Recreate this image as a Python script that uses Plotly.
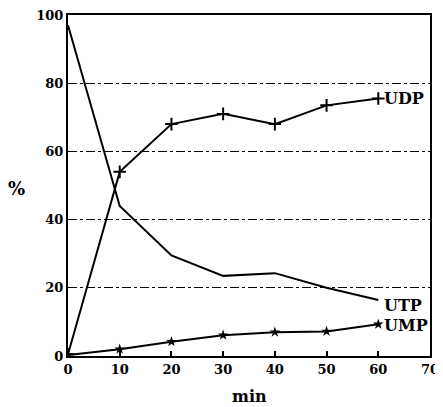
import plotly.graph_objects as go

minutes = [0, 10, 20, 30, 40, 50, 60]
udp = [0.5, 54, 68, 71, 68, 73.5, 75.5]
utp = [97, 44, 29.5, 23.5, 24.3, 20, 16.4]
ump = [0.3, 2, 4.2, 6.1, 7, 7.2, 9.3]
x_ticks = [0, 10, 20, 30, 40, 50, 60, 70]
y_ticks = [0, 20, 40, 60, 80, 100]

FONT = "DejaVu Serif"

fig = go.Figure()
fig.add_trace(go.Scatter(x=minutes, y=udp, mode="lines+markers", name="UDP",
                         line=dict(color="black", width=2),
                         marker=dict(symbol="cross-thin", size=9, line=dict(color="black", width=2))))
fig.add_trace(go.Scatter(x=minutes, y=utp, mode="lines", name="UTP",
                         line=dict(color="black", width=2)))
fig.add_trace(go.Scatter(x=minutes, y=ump, mode="lines+markers", name="UMP",
                         line=dict(color="black", width=2),
                         marker=dict(symbol="star", size=8, color="black")))

labels = [("UDP", udp[-1]), ("UTP", utp[-1] - 1.5), ("UMP", ump[-1] - 0.5)]
for txt, yv in labels:
    fig.add_annotation(x=minutes[-1] + 0.8, y=yv, text="<b>" + txt + "</b>", showarrow=False,
                       xanchor="left", yanchor="middle",
                       font=dict(family=FONT, size=16, color="black"))

# page body has an 8px margin: figure sits at (8, 8) in the window
fig.update_layout(
    width=435, height=399,
    margin=dict(l=60, r=13, t=7, b=51),
    paper_bgcolor="white", plot_bgcolor="white",
    showlegend=False,
    font=dict(family=FONT, color="black", size=12),
)
fig.update_xaxes(range=[0, 70], tickvals=x_ticks, ticktext=["<b>%d</b>" % v for v in x_ticks],
                 showline=True, linecolor="black", linewidth=2, mirror=True,
                 ticks="inside", ticklen=5, tickwidth=2, tickcolor="black",
                 showgrid=False, zeroline=False, automargin=False,
                 ticklabeloverflow="allow",
                 tickfont=dict(family=FONT, size=13))
fig.update_yaxes(range=[0, 100], tickvals=y_ticks, ticktext=["<b>%d</b>" % v for v in y_ticks],
                 showline=True, linecolor="black", linewidth=2, mirror=True,
                 ticks="", showgrid=True, gridcolor="black", gridwidth=1, griddash="dashdot",
                 zeroline=False, automargin=False,
                 ticklabeloverflow="allow",
                 tickfont=dict(family=FONT, size=13))
fig.add_annotation(x=-0.172, y=0.49, xref="paper", yref="paper", text="<b>%</b>", showarrow=False,
                   font=dict(family=FONT, size=18, color="black"))
fig.add_annotation(x=0.5, y=-0.085, xref="paper", yref="paper", text="<b>min</b>", showarrow=False,
                   yanchor="top", font=dict(family=FONT, size=16, color="black"))

fig.write_html("out.html")
